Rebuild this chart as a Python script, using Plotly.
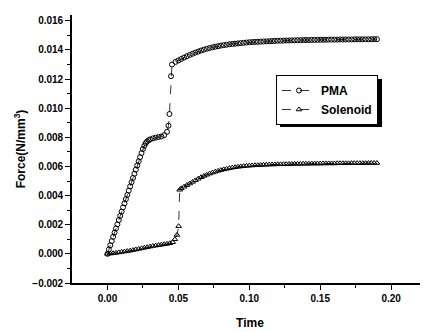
import plotly.graph_objects as go

# ---- PMA series (time, force) ----
pma_t_ramp = [0.000, 0.001, 0.002, 0.003, 0.004, 0.005, 0.006, 0.007, 0.008, 0.009,
              0.010, 0.011, 0.012, 0.013, 0.014, 0.015, 0.016, 0.017, 0.018, 0.019,
              0.020, 0.021, 0.022, 0.023, 0.024, 0.025, 0.026, 0.027, 0.028, 0.029,
              0.030, 0.032, 0.034, 0.036, 0.038, 0.040, 0.042, 0.043, 0.0437, 0.0448, 0.0455]
pma_v_ramp = [0.00000, 0.00030, 0.00059, 0.00088, 0.00117, 0.00146, 0.00175, 0.00203, 0.00232, 0.00261,
              0.00290, 0.00319, 0.00347, 0.00376, 0.00405, 0.00434, 0.00463, 0.00492, 0.00521, 0.00550,
              0.00578, 0.00607, 0.00636, 0.00664, 0.00692, 0.00720, 0.00743, 0.00760, 0.00772, 0.00780,
              0.00786, 0.00793, 0.00798, 0.00802, 0.00806, 0.00815, 0.00838, 0.00880, 0.00960, 0.01220, 0.01300]
pma_t_tail = [round(0.048 + 0.002 * i, 3) for i in range(72)]
pma_v_tail = [0.01318, 0.01328, 0.01338, 0.01348, 0.01357, 0.01366, 0.01374, 0.01382, 0.01389, 0.01396,
              0.01402, 0.01408, 0.01413, 0.01418, 0.01422, 0.01426, 0.01430, 0.01433, 0.01436, 0.01439,
              0.01441, 0.01443, 0.01445, 0.01447, 0.01449, 0.01451, 0.01453,
              0.01454, 0.01455, 0.01456, 0.01457, 0.01458, 0.01459, 0.01460, 0.01461, 0.01462, 0.01463,
              0.01464, 0.01464, 0.01465, 0.01465, 0.01466, 0.01466, 0.01467, 0.01467, 0.01468, 0.01468,
              0.01468, 0.01469, 0.01469, 0.01469, 0.01470, 0.01470, 0.01470, 0.01471, 0.01471, 0.01471,
              0.01471, 0.01472, 0.01472, 0.01472, 0.01472, 0.01472, 0.01473, 0.01473, 0.01473, 0.01473,
              0.01473, 0.01473, 0.01474, 0.01474, 0.01474]

# ---- Solenoid series (time, force) ----
sol_t_head = [0.000, 0.002, 0.004, 0.006, 0.008, 0.010, 0.012, 0.014, 0.016, 0.018,
              0.020, 0.022, 0.024, 0.026, 0.028, 0.030, 0.032, 0.034, 0.036, 0.038,
              0.040, 0.042, 0.044, 0.046, 0.0475, 0.049, 0.0502, 0.0509]
sol_v_head = [0.00000, 0.00002, 0.00004, 0.00007, 0.00010, 0.00013, 0.00016, 0.00019, 0.00022, 0.00026,
              0.00030, 0.00034, 0.00038, 0.00042, 0.00046, 0.00050, 0.00054, 0.00057, 0.00060, 0.00063,
              0.00066, 0.00069, 0.00073, 0.00080, 0.00100, 0.00130, 0.00190, 0.00440]
sol_t_tail = [round(0.052 + 0.002 * i, 3) for i in range(70)]
sol_v_tail = [0.00450, 0.00461, 0.00472, 0.00483, 0.00494, 0.00505, 0.00516, 0.00526, 0.00535, 0.00543,
              0.00551, 0.00558, 0.00564, 0.00570, 0.00575, 0.00580, 0.00584, 0.00588, 0.00592, 0.00595,
              0.00598, 0.00600, 0.00602, 0.00604, 0.00606,
              0.00607, 0.00608, 0.00609, 0.00610, 0.00611, 0.00612, 0.00613, 0.00614, 0.00614, 0.00615,
              0.00615, 0.00616, 0.00616, 0.00617, 0.00617, 0.00618, 0.00618, 0.00618, 0.00619, 0.00619,
              0.00619, 0.00620, 0.00620, 0.00620, 0.00620, 0.00621, 0.00621, 0.00621, 0.00621, 0.00621,
              0.00622, 0.00622, 0.00622, 0.00622, 0.00622, 0.00623, 0.00623, 0.00623, 0.00623, 0.00623,
              0.00623, 0.00624, 0.00624, 0.00624, 0.00624]

pma_t = pma_t_ramp + pma_t_tail
pma_v = pma_v_ramp + pma_v_tail
sol_t = sol_t_head + sol_t_tail
sol_v = sol_v_head + sol_v_tail

x_ticks = [0.00, 0.05, 0.10, 0.15, 0.20]
y_ticks = [-0.002, 0.000, 0.002, 0.004, 0.006, 0.008, 0.010, 0.012, 0.014, 0.016]

FONT = "Liberation Sans, Arial, sans-serif"

fig = go.Figure()
fig.add_trace(go.Scatter(
    x=pma_t, y=pma_v, name="PMA", mode="lines+markers",
    line=dict(color="black", width=0.8, dash="dash"),
    marker=dict(symbol="circle-open", size=5, color="black", line=dict(width=1, color="black")),
))
fig.add_trace(go.Scatter(
    x=sol_t, y=sol_v, name="Solenoid", mode="lines+markers",
    line=dict(color="black", width=0.8, dash="dash"),
    marker=dict(symbol="triangle-up-open", size=5, color="black", line=dict(width=1, color="black")),
))

fig.update_xaxes(
    range=[-0.025, 0.226], tickvals=x_ticks, tickformat=".2f",
    showline=True, linecolor="black", linewidth=1.6, mirror=False,
    showgrid=False, zeroline=False, automargin=False,
    ticks="outside", ticklen=5, tickwidth=1.2, tickcolor="black",
    minor=dict(ticks="outside", ticklen=3, tickwidth=1, tickcolor="black",
               tickvals=[0.025, 0.075, 0.125, 0.175, 0.225]),
    tickfont=dict(size=10, color="black", family=FONT, weight="bold"),
    title=dict(text="Time", font=dict(size=12, color="black", family=FONT, weight="bold"), standoff=16),
)
fig.update_yaxes(
    range=[-0.002, 0.0164], tickvals=y_ticks, tickformat=".3f",
    showline=True, linecolor="black", linewidth=1.6, mirror=False,
    showgrid=False, zeroline=False, automargin=False,
    ticks="outside", ticklen=5, tickwidth=1.2, tickcolor="black",
    minor=dict(ticks="outside", ticklen=3, tickwidth=1, tickcolor="black",
               tickvals=[-0.001, 0.001, 0.003, 0.005, 0.007, 0.009, 0.011, 0.013, 0.015]),
    tickfont=dict(size=10, color="black", family=FONT, weight="bold"),
    title=dict(text="Force(N/mm<sup>3</sup>)", font=dict(size=12, color="black", family=FONT, weight="bold"), standoff=4),
)

# plot area spans 356 x 268 px (figure sits 8px in from the page corner)
PW, PH = 356, 268
# legend drop shadow
fig.add_shape(type="rect", xref="paper", yref="paper",
              x0=(280 - 72) / PW, x1=(382 - 72) / PW,
              y0=(283 - 127) / PH, y1=(283 - 79) / PH,
              fillcolor="black", line=dict(width=0), layer="above")

fig.update_layout(
    width=420, height=324,
    margin=dict(l=64, r=0, t=7, b=49),
    plot_bgcolor="white", paper_bgcolor="white",
    font=dict(family=FONT, size=10, color="black"),
    showlegend=True,
    legend=dict(x=(276 - 72) / PW, y=(283 - 75) / PH, xanchor="left", yanchor="top",
                bordercolor="black", borderwidth=1, bgcolor="white",
                font=dict(size=12, color="black", family=FONT, weight="bold"),
                itemwidth=34, tracegroupgap=0),
)

fig.write_html("out.html")
